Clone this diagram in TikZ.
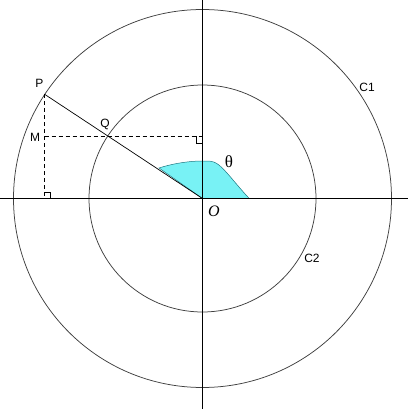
\documentclass[tikz,border=0pt]{standalone}
\usepackage{fontspec}
\usetikzlibrary{calc}
\setmainfont{Liberation Sans}
\newfontfamily\serifit{Liberation Serif}
\definecolor{fillcyan}{RGB}{120,242,245}
\definecolor{edgeteal}{RGB}{30,120,130}
\begin{document}
\begin{tikzpicture}[x=1pt,y=-1pt,
  circ/.style={draw=black!75,line width=0.75pt},
  axisln/.style={draw=black,line width=0.8pt},
  dashln/.style={draw=black,line width=0.7pt,dash pattern=on 4pt off 3pt},
  lbl/.style={font=\fontsize{12}{14}\selectfont,inner sep=0pt},
  ramark/.style={draw=black,line width=0.6pt}]
\useasboundingbox (0,0) rectangle (408,409);
\coordinate (O) at (202.5,198.5);
\coordinate (P) at ($(O)+(-158.0,-104.3)$);
\coordinate (Q) at ($(O)+(-94.8,-62.6)$);
\coordinate (A) at ($(O)+(-43.5,-30.5)$);
\coordinate (M) at (P |- Q);
\coordinate (K) at (P |- O);
\coordinate (N) at (O |- Q);
% cyan angle blob
\filldraw[fill=fillcyan,draw=edgeteal,line width=0.5pt]
  (O) -- (A) .. controls ($(O)+(-28,-35.5)$) and ($(O)+(-12,-37.5)$) .. ($(O)+(0,-37.5)$)
  -- ($(O)+(6,-37.5)$) .. controls ($(O)+(14,-37)$) and ($(O)+(18,-33)$) .. ($(O)+(28,-21.5)$)
  .. controls ($(O)+(36,-12)$) and ($(O)+(42,-5)$) .. ($(O)+(46.8,0)$) -- cycle;
% circles
\draw[circ] (O) circle[radius=189];
\draw[circ] (O) circle[radius=113.5];
% axes
\coordinate (L) at (0,198.5);
\coordinate (R) at (408,198.5);
\coordinate (T) at (202.5,0);
\coordinate (B) at (202.5,409);
\draw[axisln] (L) -- (R);
\draw[axisln] (T) -- (B);
% radius line
\draw[draw=black,line width=0.7pt] (P) -- (O);
% dashed
\draw[dashln] (P) -- (K);
\draw[dashln] (M) -- (N);
% right angle marks
\draw[ramark] ($(K)+(0,-6)$) -- ($(K)+(6,-6)$) -- ($(K)+(6,0)$);
\draw[ramark] ($(N)+(-6,0)$) -- ($(N)+(-6,7)$) -- ($(N)+(0,7)$);
% labels
\node[lbl] (lP) at (39.5,83) {P};
\node[lbl] (lQ) at (105,124) {Q};
\node[lbl] (lM) at (35,137) {M};
\node[lbl] (lC1) at (367,87) {C1};
\node[lbl] (lC2) at (312,258.5) {C2};
\node[inner sep=0pt,font=\serifit\fontsize{16}{18}\selectfont\itshape] (lO) at (214,211) {O};
\node[inner sep=0pt,font=\serifit\fontsize{17}{19}\selectfont] (lT) at (229,162) {θ};
\end{tikzpicture}
\end{document}
